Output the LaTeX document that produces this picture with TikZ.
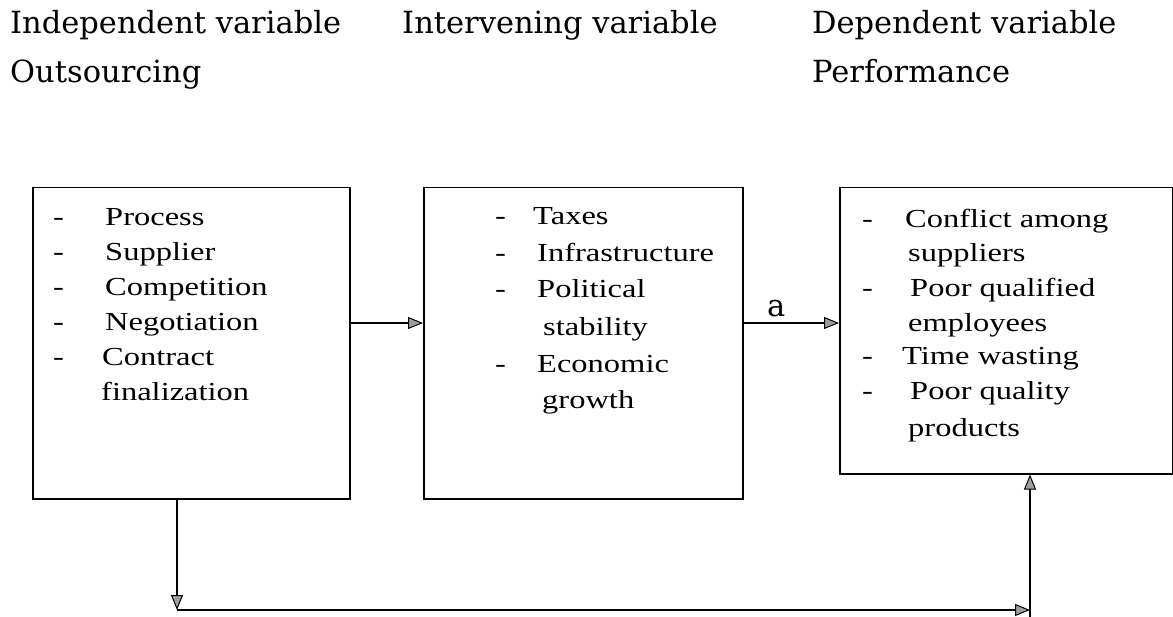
\documentclass[tikz,border=0pt]{standalone}
\usepackage{fontspec}
\setmainfont{Liberation Serif}
\newfontfamily\headfont{DejaVu Serif}
\newfontfamily\boxfont[FakeStretch=1.25]{Liberation Serif}
\usetikzlibrary{arrows.meta}
\tikzset{
  box/.style={draw, line width=1.5pt, anchor=north west, inner sep=0pt},
  item/.style={anchor=base west, inner sep=0pt, font=\boxfont\fontsize{26}{35}\selectfont},
  head/.style={anchor=base west, inner sep=0pt, font=\headfont\fontsize{30.5}{36}\selectfont},
  arr/.style={line width=1.5pt, -{Triangle[length=15pt,width=12pt,fill=gray!75,line width=1pt]}}
}
\begin{document}
\begin{tikzpicture}[x=1pt,y=-1pt]
\useasboundingbox (0,0) rectangle (1173,617);
% headers
\node[head] (h1) at (10,34) {Independent variable};
\node[head] (h2) at (402,34) {Intervening variable};
\node[head] (h3) at (812,34) {Dependent variable};
\node[head] (h4) at (10,83) {Outsourcing};
\node[head] (h5) at (812,83) {Performance};
% boxes
\node[box, minimum width=317pt, minimum height=311pt] (b1) at (32,187) {};
\node[box, minimum width=319pt, minimum height=311pt] (b2) at (423,187) {};
\node[box, minimum width=333pt, minimum height=286pt] (b3) at (839,187) {};
% box 1 items
\node[item] (d11) at (53,226) {-};
\node[item] (i11) at (105,226) {Process};
\node[item] (d12) at (53,261) {-};
\node[item] (i12) at (105,261) {Supplier};
\node[item] (d13) at (53,296) {-};
\node[item] (i13) at (105,296) {Competition};
\node[item] (d14) at (53,331) {-};
\node[item] (i14) at (105,331) {Negotiation};
\node[item] (d15) at (53,366) {-};
\node[item] (i15) at (102,366) {Contract};
\node[item] (i16) at (101,401) {finalization};
% box 2 items
\node[item] (d21) at (495,225) {-};
\node[item] (i21) at (533,225) {Taxes};
\node[item] (d22) at (495,262) {-};
\node[item] (i22) at (537,262) {Infrastructure};
\node[item] (d23) at (495,298) {-};
\node[item] (i23) at (537,298) {Political};
\node[item] (i24) at (543,336) {stability};
\node[item] (d25) at (495,373) {-};
\node[item] (i25) at (537,373) {Economic};
\node[item] (i26) at (542,409) {growth};
% box 3 items
\node[item] (d31) at (862,228) {-};
\node[item] (i31) at (905,228) {Conflict among};
\node[item] (i32) at (908,262) {suppliers};
\node[item] (d33) at (862,297) {-};
\node[item] (i33) at (910,297) {Poor qualified};
\node[item] (i34) at (908,332) {employees};
\node[item] (d35) at (862,365) {-};
\node[item] (i35) at (902,365) {Time wasting};
\node[item] (d36) at (862,400) {-};
\node[item] (i36) at (910,400) {Poor quality};
\node[item] (i37) at (908,436) {products};
% connectors
\coordinate (y0) at (0,323);
\draw[arr] (b1.east |- y0) -- (b2.west |- y0);
\draw[arr] (b2.east |- y0) -- (b3.west |- y0);
\node[head] (la) at (767,317) {a};
\coordinate (c1) at (177,610);
\coordinate (c2) at (1030,610);
\coordinate (c3) at (1030,617);
\draw[arr] (b1.south -| c1) -- (c1);
\draw[arr] (c1) -- (c2);
\draw[arr] (c3) -- (b3.south -| c3);
\end{tikzpicture}
\end{document}
